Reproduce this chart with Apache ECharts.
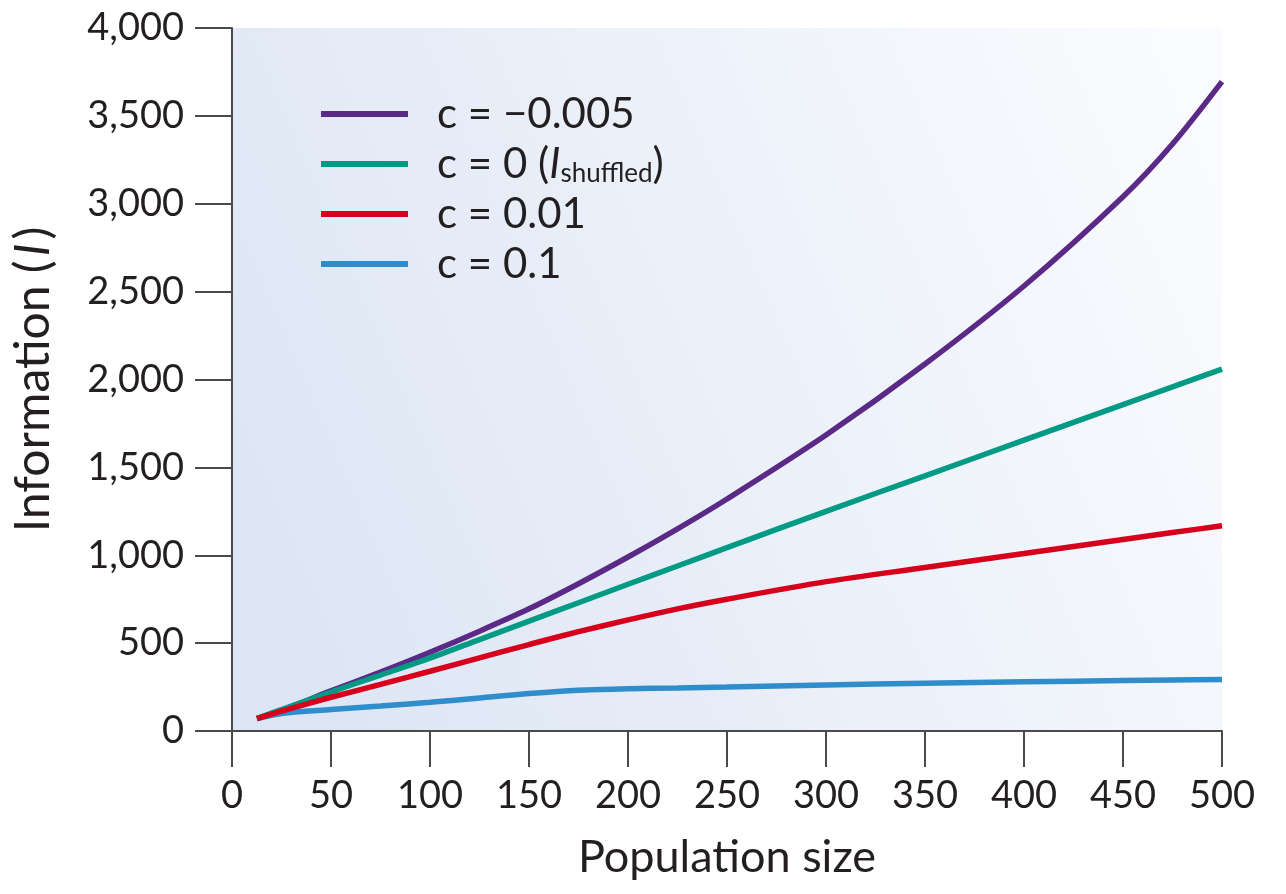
<!DOCTYPE html>
<html>
<head>
<meta charset="utf-8">
<script src="https://cdn.jsdelivr.net/npm/echarts@6/dist/echarts.min.js"></script>
<style>
html,body{margin:0;padding:0;background:#fff;}
#chart{width:1286px;height:894px;}
</style>
</head>
<body>
<div id="chart"></div>
<script>
// Population size sample positions
const popSize = [12.6, 25, 50, 75, 100, 125, 150, 175, 200, 225, 250, 300, 350, 400, 450, 475, 500];
// Information values per correlation strength c
const infoNeg005 = [71, 118, 228, 335, 448, 568, 695, 838, 990, 1150, 1320, 1684, 2088, 2532, 3040, 3340, 3695];
const infoShuffled = [71, 122, 222, 318, 415, 520, 625, 730, 835, 939, 1043, 1250, 1452, 1655, 1857, 1958, 2059];
const info001 = [71, 113, 192, 265, 340, 416, 492, 565, 632, 695, 750, 850, 930, 1010, 1090, 1129, 1168];
const info01 = [71, 100, 122, 142, 163, 188, 213, 232, 240, 245, 250, 262, 272, 280, 287, 290, 293];

const seriesNames = ['c = \u22120.005', 'c = 0 ({it|I}{sub|shuffled})', 'c = 0.01', 'c = 0.1'];
const xTicks = {min: 0, max: 500, step: 50};
const yTicks = {min: 0, max: 4000, step: 500};

const pairs = vals => popSize.map((x, i) => [x, vals[i]]);
const FONT = 'Lato';
const TXT = '#231f20';

const chart = echarts.init(document.getElementById('chart'));
const mk = (name, vals, color) => ({
  name, type: 'line', data: pairs(vals), smooth: 0.3, symbol: 'none',
  lineStyle: {width: 5.5, color, cap: 'butt'}, itemStyle: {color}
});
chart.setOption({
  animation: false,
  grid: {
    left: 232, right: 64, top: 28, bottom: 163, show: true, borderWidth: 0,
    backgroundColor: new echarts.graphic.LinearGradient(0, 0.8, 1, 0.2, [
      {offset: 0, color: '#dce5f4'}, {offset: 1, color: '#fafbfe'}
    ])
  },
  legend: {
    left: 316, top: 84, orient: 'vertical', itemWidth: 87, itemHeight: 6, itemGap: 0,
    icon: 'rect',
    data: seriesNames,
    textStyle: {
      fontFamily: FONT, fontSize: 42, color: TXT, lineHeight: 50, padding: [0, 0, 0, 24],
      rich: {
        it: {fontFamily: FONT, fontSize: 42, fontStyle: 'italic', color: TXT, lineHeight: 50},
        sub: {fontFamily: FONT, fontSize: 26, color: TXT, lineHeight: 30, padding: [20, 0, 0, 0]}
      }
    }
  },
  xAxis: {
    type: 'value', min: xTicks.min, max: xTicks.max, interval: xTicks.step,
    name: 'Population size', nameLocation: 'middle', nameGap: 104,
    nameTextStyle: {fontFamily: FONT, fontSize: 45, color: TXT},
    axisLine: {show: true, onZero: false, lineStyle: {color: '#4a4a4a', width: 2}},
    axisTick: {show: true, length: 36, lineStyle: {color: '#4a4a4a', width: 2}},
    axisLabel: {fontFamily: FONT, fontSize: 38, color: TXT, margin: 46},
    splitLine: {show: false}
  },
  yAxis: {
    type: 'value', min: yTicks.min, max: yTicks.max, interval: yTicks.step,
    name: 'Information ({it|I})', nameLocation: 'middle', nameGap: 174,
    nameTextStyle: {fontFamily: FONT, fontSize: 48, color: TXT,
      rich: {it: {fontFamily: FONT, fontSize: 48, fontStyle: 'italic', color: TXT, padding: [0, 4, 0, 4]}}},
    axisLine: {show: true, onZero: false, lineStyle: {color: '#4a4a4a', width: 2}},
    axisTick: {show: true, length: 37, lineStyle: {color: '#4a4a4a', width: 2}},
    axisLabel: {fontFamily: FONT, fontSize: 38, color: TXT, margin: 48,
      formatter: v => v.toLocaleString('en-US')},
    splitLine: {show: false}
  },
  series: [
    mk(seriesNames[3], info01, '#2f8dcb'),
    mk(seriesNames[0], infoNeg005, '#5b2a86'),
    mk(seriesNames[1], infoShuffled, '#009a85'),
    mk(seriesNames[2], info001, '#d6001c')
  ]
});
</script>
</body>
</html>
